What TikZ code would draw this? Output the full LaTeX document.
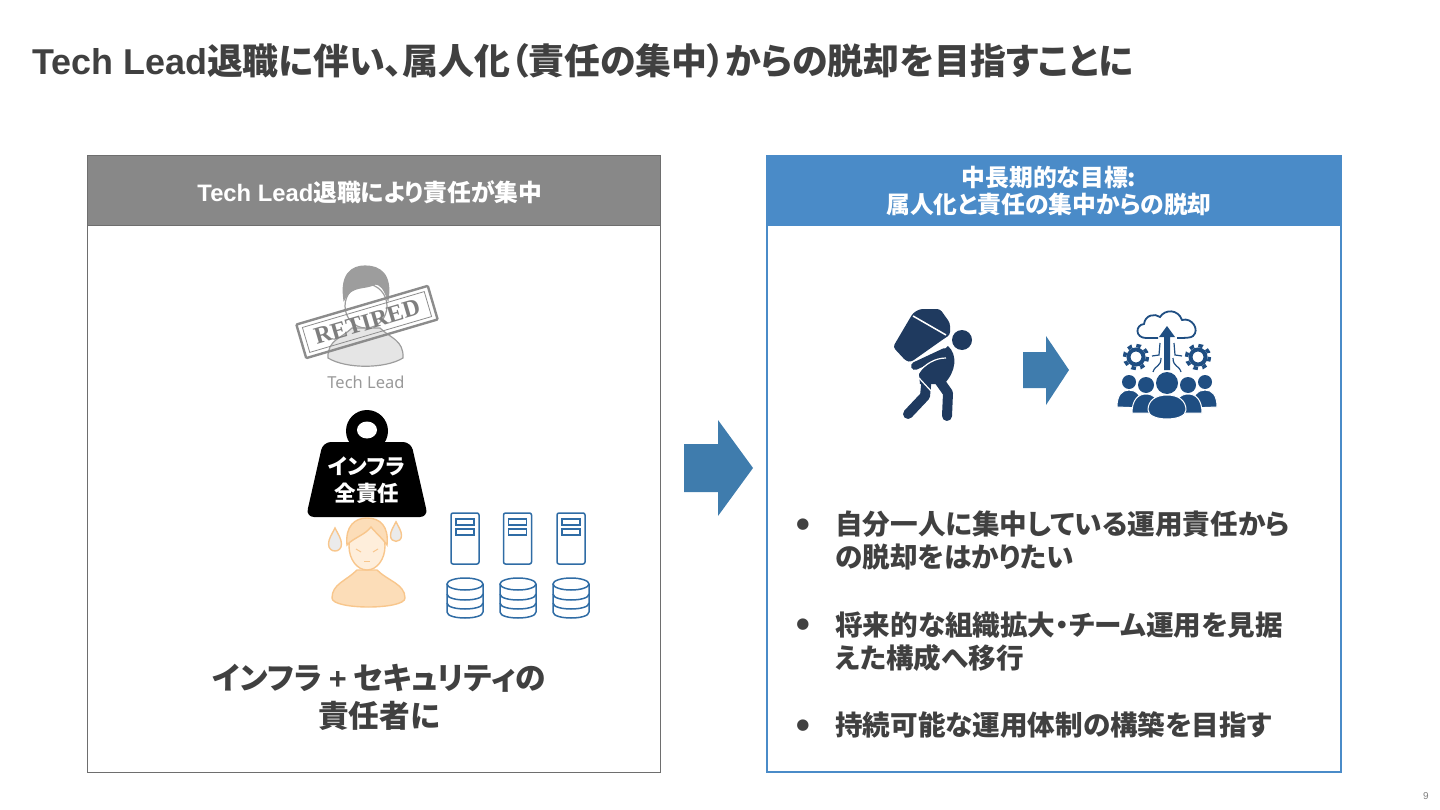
\documentclass[tikz,border=0pt]{standalone}
\usepackage{fontspec}
\setmainfont{Noto Sans CJK JP}[RawFeature=+palt]
\newfontfamily\latfont{Liberation Sans}
\newfontfamily\serifont{Liberation Serif}
\newfontfamily\labelfont{Noto Sans}
\newfontfamily\symfont{DejaVu Sans}
\usetikzlibrary{positioning, calc}
\definecolor{inkdark}{HTML}{404040}
\definecolor{headgrey}{HTML}{888888}
\definecolor{edgegrey}{HTML}{6E6E6E}
\definecolor{headblue}{HTML}{4A8BC8}
\definecolor{arrowblue}{HTML}{3F7CAD}
\definecolor{stampgrey}{HTML}{8C8C8C}
\definecolor{skinedge}{HTML}{F8C68C}
\definecolor{skinfill}{HTML}{FCDDB8}
\definecolor{rackblue}{HTML}{2F6CA5}
\definecolor{mannavy}{HTML}{1F3A5F}
\definecolor{teamblue}{HTML}{1F4E82}

\begin{document}
\begin{tikzpicture}[
  x=1pt, y=-1pt,
  every node/.style={inner sep=0pt, align=center},
  titletxt/.style={font=\bfseries\fontsize{35.9}{40}\selectfont, text=inkdark, anchor=west},
  headtxt/.style={font=\bfseries\fontsize{23.8}{27}\selectfont, text=white},
  itemtxt/.style={font=\bfseries\fontsize{27.6}{33}\selectfont, text=inkdark, anchor=west},
  dot/.style={font=\symfont\fontsize{15}{20}\selectfont, text=inkdark},
  loadtxt/.style={font=\bfseries\fontsize{21.5}{27}\selectfont, text=white},
  leadtxt/.style={font=\bfseries\fontsize{30.7}{38}\selectfont, text=inkdark},
  frameL/.style={draw=edgegrey, line width=1pt},
  frameR/.style={draw=headblue, line width=1.4pt},
  blockarr/.style={fill=arrowblue},
  stampbox/.style={draw=stampgrey, rotate=16.4},
  greyicon/.style={draw=stampgrey!85, line width=1.2pt, fill=black!10},
  skinicon/.style={draw=skinedge, line width=1.4pt, fill=skinfill},
  rackline/.style={draw=rackblue, line width=1.5pt},
  server/.pic={
    \draw[rackline, rounded corners=2pt] (-14,0) rectangle (14,51);
    \draw[rackline] (-9,6) rectangle (9,12);
    \draw[rackline] (-9,16) rectangle (9,22);
  },
  drum/.pic={
    \draw[rackline] (0,7) ellipse (18 and 6);
    \draw[rackline] (-18,7) -- (-18,35) .. controls (-18,43) and (18,43) .. (18,35) -- (18,7);
    \draw[rackline] (-18,17) .. controls (-18,25) and (18,25) .. (18,17);
    \draw[rackline] (-18,26) .. controls (-18,34) and (18,34) .. (18,26);
  },
  sweat/.pic={
    \draw[skinicon, fill=black!8] (0,-12) .. controls (-3,-6) and (-6.5,-1) .. (-6.5,4)
      .. controls (-6.5,9) and (-3,11) .. (0,11) .. controls (3,11) and (6.5,9) .. (6.5,4)
      .. controls (6.5,-1) and (3,-6) .. (0,-12) -- cycle;
  },
  gear/.pic={
    \draw[teamblue, line width=4pt] (0,0) circle (7.5);
    \draw[teamblue, line width=3.5pt, dash pattern=on 4.5pt off 4.53pt] (0,0) circle (11.5);
  },
]

%% ---- Title ----
\node[titletxt] (title) at (32,61)
  {{\latfont Tech Lead}退職に伴い、属人化（責任の集中）からの脱却を目指すことに};

%% ---- Left panel ----
\draw[frameL] (87,156) rectangle (660,772);
\draw[frameL, fill=headgrey] (87,156) rectangle (660,226);
\node[headtxt] (headL) at (370,192) {{\latfont Tech Lead}退職により責任が集中};

%% ---- Retired tech lead ----
\draw[greyicon] (328,358) .. controls (327,340) and (342,338) .. (352,328) -- (380,328)
  .. controls (390,338) and (404,340) .. (403,358) .. controls (385,369) and (346,369) .. (328,358) -- cycle;
\draw[greyicon, fill=white] (366,306) ellipse (21 and 22);
\draw[greyicon, fill=stampgrey!85] (344,300) .. controls (340,274) and (352,266) .. (365,266)
  .. controls (380,266) and (392,274) .. (388,300) .. controls (384,288) and (380,284) .. (375,284)
  .. controls (365,290) and (352,284) .. (344,300) -- cycle;
\node[stampbox, line width=2.4pt, minimum width=137, minimum height=35, rounded corners=1pt] (stampO) at (367,322) {};
\node[stampbox, line width=.8pt, minimum width=127, minimum height=26, text=stampgrey!90!black,
  font=\serifont\bfseries\fontsize{24}{26}\selectfont] (stampI) at (367,322) {RETIRED};
\node[font=\labelfont\fontsize{16.5}{20}\selectfont, text=black!40] (techlead) at (366,382) {Tech Lead};

%% ---- Weight ----
\fill[black] (367,431) circle (21);
\fill[black, rounded corners=8pt] (323,442) -- (411,442) -- (428,517) -- (306,517) -- cycle;
\fill[white] (367,430) ellipse (10 and 8.5);
\node[loadtxt] (load1) at (367,466) {インフラ};
\node[loadtxt] (load2) at (367,493) {全責任};

%% ---- Worried person ----
\draw[skinicon] (332,598) .. controls (332,584) and (346,581) .. (357,570) -- (377,570)
  .. controls (388,581) and (405,584) .. (405,598) .. controls (405,610) and (332,610) .. (332,598) -- cycle;
\draw[skinicon, fill=skinfill!50] (367,546) ellipse (18 and 24);
\draw[skinicon] (347,545) .. controls (345,526) and (355,518) .. (367,518)
  .. controls (380,518) and (389,526) .. (387,545) .. controls (382,538) and (375,532) .. (371,527)
  .. controls (365,535) and (353,538) .. (347,545) -- cycle;
\draw[skinedge, line width=1pt] (356,549) -- (361,552);
\draw[skinedge, line width=1pt] (378,549) -- (373,552);
\draw[skinedge, line width=1pt] (364,561) -- (370,561);
\pic (dropL) at (335,540) {sweat};
\pic[scale=.85] (dropR) at (396,532) {sweat};

%% ---- Servers and storage ----
\foreach \sx/\dx [count=\i] in {465/465, 517.5/518, 571/571} {
  \pic (srv\i) at (\sx,513) {server};
  \pic (dsk\i) at (\dx,577) {drum};
}

\node[leadtxt] (lead) at (379,697) {インフラ {\latfont +} セキュリティの\\責任者に};

%% ---- Main arrow ----
\fill[blockarr] (684,444) -- (718,444) -- (718,420) -- (753,468) -- (718,516) -- (718,492) -- (684,492) -- cycle;

%% ---- Right panel ----
\draw[frameR] (767,156) rectangle (1341,772);
\fill[headblue] (767,156) rectangle (1341,226);
\node[headtxt] (headR) at (1049,191.5) {中長期的な目標:\\属人化と責任の集中からの脱却};

%% ---- Man carrying load ----
\fill[mannavy, rounded corners=3pt] (913,313) -- (920,309) -- (940,309) -- (950,323) -- (950,335)
  -- (945,338) -- (911,362) -- (906,361) -- (893,347) -- cycle;
\draw[white, line width=1.5pt] (913,316) -- (946,335);
\fill[mannavy] (962,340) circle (10);
\draw[mannavy, line width=8pt, line cap=round] (945,352) -- (915,366);
\fill[mannavy] (948,346) .. controls (958,355) and (956,372) .. (944,384) -- (920,384)
  -- (919,374) .. controls (925,364) and (935,358) .. (948,346) -- cycle;
\draw[white, line width=1.2pt] (917,374) .. controls (925,364) and (935,358) .. (946,358);
\draw[mannavy, line width=10pt, line cap=round, line join=round] (927,376) -- (925,396) -- (908,414);
\draw[mannavy, line width=10pt, line cap=round, line join=round] (936,376) -- (948,393) -- (947,416);
\draw[white, line width=1.2pt] (919,378) -- (931,391);

%% ---- Small arrow ----
\fill[blockarr] (1023,352) -- (1046,352) -- (1046,336) -- (1069,370) -- (1046,405) -- (1046,388) -- (1023,388) -- cycle;

%% ---- Team with cloud ----
\draw[teamblue, line width=1.8pt] (1158,338) -- (1146,338) .. controls (1135,338) and (1135,325) .. (1144,324)
  .. controls (1145,315) and (1155,313) .. (1160,317) .. controls (1165,309) and (1178,309) .. (1182,320)
  .. controls (1192,317) and (1200,330) .. (1193,336) .. controls (1191,338) and (1185,338) .. (1177,338);
\fill[teamblue] (1167,326) -- (1175,337) -- (1170,337) -- (1170,370) -- (1164,370) -- (1164,337) -- (1159,337) -- cycle;
\pic (gearL) at (1136,357) {gear};
\pic (gearR) at (1198,357) {gear};
\draw[teamblue, line width=1.2pt] (1153,372) .. controls (1155,365) and (1161,367) .. (1161,358);
\draw[teamblue, line width=1.2pt] (1181,372) .. controls (1179,365) and (1173,367) .. (1173,358);
\draw[teamblue, line width=1.2pt] (1152,356) -- (1159,355) -- (1160,343);
\draw[teamblue, line width=1.2pt] (1182,356) -- (1175,355) -- (1174,343);
\fill[teamblue] (1129,382) circle (7);
\fill[teamblue] (1205,382) circle (7);
\fill[teamblue] (1146,385) circle (8);
\fill[teamblue] (1188,385) circle (8);
\fill[teamblue] (1167,383) circle (11);
\filldraw[teamblue, draw=white, line width=1pt] (1117,407) .. controls (1117,395) and (1122,390) .. (1129,390)
  .. controls (1136,390) and (1142,395) .. (1142,408) -- cycle;
\filldraw[teamblue, draw=white, line width=1pt] (1217,407) .. controls (1217,395) and (1212,390) .. (1205,390)
  .. controls (1198,390) and (1192,395) .. (1192,408) -- cycle;
\filldraw[teamblue, draw=white, line width=1pt] (1132,413) .. controls (1132,400) and (1138,394) .. (1146,394)
  .. controls (1154,394) and (1160,400) .. (1160,413) -- cycle;
\filldraw[teamblue, draw=white, line width=1pt] (1202,413) .. controls (1202,400) and (1196,394) .. (1188,394)
  .. controls (1180,394) and (1174,400) .. (1174,413) -- cycle;
\filldraw[teamblue, draw=white, line width=1pt] (1148,410) .. controls (1148,401) and (1155,395) .. (1167,395)
  .. controls (1179,395) and (1186,401) .. (1186,410) .. controls (1186,422) and (1148,422) .. (1148,410) -- cycle;

%% ---- Goals ----
\node[dot] (dot1) at (803,525) {●};
\node[itemtxt] (item1a) at (835,524) {自分一人に集中している運用責任から};
\node[itemtxt] (item1b) at (835,557) {の脱却をはかりたい};
\node[dot] (dot2) at (803,625) {●};
\node[itemtxt] (item2a) at (835,625) {将来的な組織拡大・チーム運用を見据};
\node[itemtxt] (item2b) at (835,658) {えた構成へ移行};
\node[dot] (dot3) at (803,726) {●};
\node[itemtxt] (item3) at (835,725) {持続可能な運用体制の構築を目指す};

\node[font=\latfont\fontsize{10}{12}\selectfont, text=black!50] (pageno) at (1426,796) {9};

\useasboundingbox (0,0) rectangle (1440,810);
\end{tikzpicture}
\end{document}
